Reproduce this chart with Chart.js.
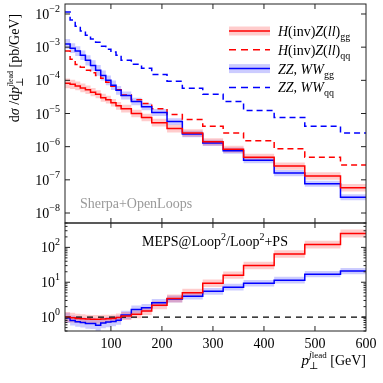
<!DOCTYPE html>
<html>
<head>
<meta charset="utf-8">
<script src="https://cdn.jsdelivr.net/npm/chart.js@4.4.0/dist/chart.umd.min.js"></script>
<style>
  html, body { margin: 0; padding: 0; background: #fff; }
  #wrap { position: relative; width: 383px; height: 383px; }
  #mainChart { position: absolute; left: 0; top: 0; }
  #ratioChart { position: absolute; left: 0; top: 222px; }
</style>
</head>
<body>
<div id="wrap">
  <canvas id="mainChart" width="383" height="224"></canvas>
  <canvas id="ratioChart" width="383" height="161"></canvas>
</div>
<script>
// bin edges in GeV (23 bins)
const binEdges = [10, 20, 30, 40, 50, 60, 70, 80, 90, 100, 110, 120, 140, 160, 180, 210, 240, 280, 320, 360, 420, 480, 550, 600];

// dsigma/dpT [pb/GeV]
const hzGg = [8.1e-5, 7.6e-5, 6.8e-5, 5.9e-5, 5.2e-5, 4.4e-5, 3.8e-5, 3.0e-5, 2.6e-5, 2.1e-5, 1.7e-5, 1.4e-5, 1.0e-5, 7.6e-6, 5.3e-6, 3.5e-6, 2.6e-6, 1.4e-6, 8.4e-7, 4.8e-7, 2.6e-7, 1.3e-7, 5.8e-8];
const hzQq = [7.6e-4, 4.3e-4, 3.0e-4, 2.5e-4, 2.0e-4, 1.7e-4, 1.4e-4, 1.15e-4, 8.7e-5, 6.6e-5, 5.2e-5, 3.6e-5, 2.6e-5, 2.0e-5, 1.4e-5, 9.3e-6, 6.6e-6, 4.1e-6, 2.6e-6, 1.5e-6, 8.7e-7, 4.8e-7, 2.8e-7];
const vvGg = [1.25e-3, 9.3e-4, 7.6e-4, 5.7e-4, 4.0e-4, 2.8e-4, 2.0e-4, 1.4e-4, 1.0e-4, 7.1e-5, 5.0e-5, 3.5e-5, 2.3e-5, 1.6e-5, 1.07e-5, 5.7e-6, 2.4e-6, 1.3e-6, 7.6e-7, 3.9e-7, 1.6e-7, 7.6e-8, 3.0e-8];
const vvQq = [1.15e-2, 6.6e-3, 4.3e-3, 3.05e-3, 2.3e-3, 1.75e-3, 1.4e-3, 1.07e-3, 8.7e-4, 7.1e-4, 5.7e-4, 4.0e-4, 3.05e-4, 2.3e-4, 1.5e-4, 9.4e-5, 5.8e-5, 3.8e-5, 2.3e-5, 1.24e-5, 7.6e-6, 4.1e-6, 2.6e-6];

// relative band half-widths of the gg predictions
const hzGgUnc = [0.40, 0.38, 0.36, 0.35, 0.34, 0.33, 0.32, 0.32, 0.31, 0.30, 0.30, 0.30, 0.30, 0.30, 0.30, 0.30, 0.30, 0.28, 0.28, 0.28, 0.28, 0.30, 0.30];
const vvGgUnc = [0.40, 0.40, 0.40, 0.40, 0.42, 0.45, 0.45, 0.42, 0.40, 0.38, 0.35, 0.32, 0.30, 0.28, 0.27, 0.26, 0.25, 0.25, 0.25, 0.24, 0.24, 0.23, 0.23];

// MEPS@Loop2 / Loop2+PS
const ratioHz = [1.0, 0.96, 0.92, 0.9, 0.88, 0.87, 0.87, 0.88, 0.9, 0.92, 0.97, 1.08, 1.2, 1.5, 2.2, 3.4, 5.0, 9.4, 16, 30, 65, 120, 250];
const ratioVv = [0.95, 0.8, 0.74, 0.7, 0.66, 0.66, 0.58, 0.68, 0.72, 0.75, 0.82, 1.15, 1.65, 1.85, 2.6, 3.3, 4.0, 5.5, 7.2, 9.4, 11.5, 17, 21];
const ratioRef = 1;

const xTicks = [100, 200, 300, 400, 500, 600];
const mainYTicks = [1e-8, 1e-7, 1e-6, 1e-5, 1e-4, 1e-3, 1e-2];
const ratioYTicks = [1, 10, 100];

const RED = '#ff0000', BLUE = '#0000ff';
const RED_BAND = 'rgba(255, 0, 0, 0.2)', BLUE_BAND = 'rgba(0, 0, 255, 0.2)';
const SERIF = "'Liberation Serif', 'DejaVu Serif', serif";
const rm = s => `${s}px ${SERIF}`;
const it = s => `italic ${s}px ${SERIF}`;

const steps = vals => binEdges.map((e, i) => ({ x: e, y: vals[Math.min(i, vals.length - 1)] }));
const up = (vals, unc) => vals.map((v, i) => v * (1 + unc[i]));
const down = (vals, unc) => vals.map((v, i) => v / (1 + unc[i]));

function line(vals, color, dashed, order) {
    return {
        data: steps(vals), stepped: 'before', borderColor: color, borderWidth: 1.5,
        borderDash: dashed ? [6, 4] : [], pointRadius: 0, fill: false, order,
    };
}
function band(vals, unc, color) {
    return [
        { data: steps(up(vals, unc)), stepped: 'before', borderWidth: 0, borderColor: 'transparent', pointRadius: 0, backgroundColor: color, fill: '+1', order: 10 },
        { data: steps(down(vals, unc)), stepped: 'before', borderWidth: 0, borderColor: 'transparent', pointRadius: 0, fill: false, order: 10 },
    ];
}

// text made of runs (italic / roman / sub / sup)
function runsWidth(ctx, runs) {
    let w = 0;
    runs.forEach(r => { if (!r.stay) { ctx.font = r.f; w += ctx.measureText(r.t).width; } });
    return w;
}
function drawRuns(ctx, x, y, runs, align) {
    if (align === 'right') x -= runsWidth(ctx, runs);
    if (align === 'center') x -= runsWidth(ctx, runs) / 2;
    ctx.textAlign = 'left';
    ctx.textBaseline = 'alphabetic';
    runs.forEach(r => {
        ctx.font = r.f;
        ctx.fillText(r.t, x, y + (r.dy || 0));
        if (!r.stay) x += ctx.measureText(r.t).width;
    });
}
const powerLabel = k => [{ t: '10', f: rm(14) }, { t: (k < 0 ? '\u2212' + (-k) : String(k)), f: rm(10), dy: -7 }];

function axesDecor(minor) {
    return {
        id: 'axesDecor',
        afterDatasetsDraw(chart) {
            const { ctx, chartArea: a, scales: { x, y } } = chart;
            const seg = (x1, y1, x2, y2) => { ctx.beginPath(); ctx.moveTo(x1, y1); ctx.lineTo(x2, y2); ctx.stroke(); };
            ctx.save();
            ctx.strokeStyle = '#222';
            ctx.lineWidth = 1;
            xTicks.forEach(v => {
                const px = x.getPixelForValue(v);
                if (px < a.right - 1) { seg(px, a.bottom, px, a.bottom - 5); seg(px, a.top, px, a.top + 5); }
            });
            y.ticks.forEach(t => {
                const py = y.getPixelForValue(t.value);
                seg(a.left, py, a.left + 5, py); seg(a.right, py, a.right - 5, py);
            });
            if (minor) {
                const lo = Math.floor(Math.log10(y.min)), hi = Math.ceil(Math.log10(y.max));
                for (let k = lo; k < hi; k++) {
                    for (let m = 2; m < 10; m++) {
                        const v = m * Math.pow(10, k);
                        if (v < y.min || v > y.max) continue;
                        const py = y.getPixelForValue(v);
                        seg(a.left, py, a.left + 2.5, py); seg(a.right, py, a.right - 2.5, py);
                    }
                }
            }
            ctx.strokeRect(a.left, a.top, a.right - a.left, a.bottom - a.top);
            ctx.fillStyle = '#000';
            y.ticks.forEach(t => {
                drawRuns(ctx, a.left - 5, y.getPixelForValue(t.value) + 5, powerLabel(Math.round(Math.log10(t.value))), 'right');
            });
            ctx.restore();
        }
    };
}

const legendItems = [
    { color: RED, band: RED_BAND, dashed: false, runs: [{ t: 'H', f: it(14) }, { t: '(inv)', f: rm(14) }, { t: 'Z', f: it(14) }, { t: '(', f: rm(14) }, { t: 'll', f: it(14) }, { t: ')', f: rm(14) }, { t: 'gg', f: rm(10), dy: 4 }] },
    { color: RED, band: null, dashed: true, runs: [{ t: 'H', f: it(14) }, { t: '(inv)', f: rm(14) }, { t: 'Z', f: it(14) }, { t: '(', f: rm(14) }, { t: 'll', f: it(14) }, { t: ')', f: rm(14) }, { t: 'qq', f: rm(10), dy: 4 }] },
    { color: BLUE, band: BLUE_BAND, dashed: false, runs: [{ t: 'ZZ', f: it(14) }, { t: ', ', f: rm(14) }, { t: 'WW', f: it(14) }, { t: 'gg', f: rm(10), dy: 4 }] },
    { color: BLUE, band: null, dashed: true, runs: [{ t: 'ZZ', f: it(14) }, { t: ', ', f: rm(14) }, { t: 'WW', f: it(14) }, { t: 'qq', f: rm(10), dy: 4 }] },
];

const mainText = {
    id: 'mainText',
    afterDraw(chart) {
        const { ctx } = chart;
        ctx.save();
        // legend
        legendItems.forEach((item, i) => {
            const cy = 31 + i * 18.8;
            if (item.band) { ctx.fillStyle = item.band; ctx.fillRect(229, cy - 4.5, 41, 9); }
            ctx.strokeStyle = item.color;
            ctx.lineWidth = 1.5;
            ctx.setLineDash(item.dashed ? [7, 5] : []);
            ctx.beginPath(); ctx.moveTo(229, cy); ctx.lineTo(270, cy); ctx.stroke();
            ctx.setLineDash([]);
            ctx.fillStyle = '#000';
            drawRuns(ctx, 278, cy + 5, item.runs, 'left');
        });
        ctx.fillStyle = '#999';
        drawRuns(ctx, 80, 208, [{ t: 'Sherpa+OpenLoops', f: rm(14) }], 'left');
        // y axis title
        ctx.fillStyle = '#000';
        ctx.translate(19, 68);
        ctx.rotate(-Math.PI / 2);
        drawRuns(ctx, 0, 0, [
            { t: 'd', f: rm(14) }, { t: '\u03c3', f: it(14) }, { t: ' /d', f: rm(14) }, { t: 'p', f: it(14) },
            { t: '\u22a5', f: rm(10), dy: 4, stay: true }, { t: 'j', f: it(9), dy: -6 }, { t: 'lead', f: rm(8), dy: -6 },
            { t: ' [pb/GeV]', f: rm(14) },
        ], 'center');
        ctx.restore();
    }
};

const ratioText = {
    id: 'ratioText',
    afterDraw(chart) {
        const { ctx } = chart;
        ctx.save();
        ctx.fillStyle = '#000';
        drawRuns(ctx, 142, 24, [
            { t: 'MEPS@Loop', f: rm(14) }, { t: '2', f: rm(10), dy: -6 }, { t: '/Loop', f: rm(14) },
            { t: '2', f: rm(10), dy: -6 }, { t: '+PS', f: rm(14) },
        ], 'left');
        drawRuns(ctx, 366, 143, [
            { t: 'p', f: it(15) }, { t: '\u22a5', f: rm(10), dy: 4, stay: true },
            { t: 'j', f: it(10), dy: -7 }, { t: 'lead', f: rm(9), dy: -7 }, { t: ' [GeV]', f: rm(14) },
        ], 'right');
        ctx.restore();
    }
};

const fixedY = (lo, hi, ticks) => ({
    type: 'logarithmic', min: lo, max: hi,
    afterFit: s => { s.width = 65; },
    afterBuildTicks: s => { s.ticks = ticks.map(v => ({ value: v })); },
    ticks: { display: false },
    grid: { display: false, drawTicks: false },
    border: { display: false },
});

new Chart(document.getElementById('mainChart'), {
    type: 'line',
    data: {
        datasets: [
            ...band(hzGg, hzGgUnc, RED_BAND),
            ...band(vvGg, vvGgUnc, BLUE_BAND),
            line(hzGg, RED, false, 0),
            line(vvGg, BLUE, false, 0),
            line(hzQq, RED, true, 1),
            line(vvQq, BLUE, true, 1),
        ]
    },
    options: {
        responsive: false,
        animation: false,
        layout: { padding: { left: 0, right: 17, top: 4, bottom: 1 }, autoPadding: false },
        plugins: { legend: { display: false }, tooltip: { enabled: false } },
        scales: {
            x: { type: 'linear', min: binEdges[0], max: binEdges[binEdges.length - 1], display: false },
            y: fixedY(5e-9, 2e-2, mainYTicks),
        }
    },
    plugins: [axesDecor(false), mainText]
});

new Chart(document.getElementById('ratioChart'), {
    type: 'line',
    data: {
        datasets: [
            ...band(ratioHz, hzGgUnc, RED_BAND),
            ...band(ratioVv, vvGgUnc, BLUE_BAND),
            line(ratioHz, RED, false, 0),
            line(ratioVv, BLUE, false, 0),
            {
                data: [{ x: binEdges[0], y: ratioRef }, { x: binEdges[binEdges.length - 1], y: ratioRef }],
                borderColor: '#000', borderWidth: 1.2, borderDash: [6, 5], pointRadius: 0, fill: false, order: 2,
            },
        ]
    },
    options: {
        responsive: false,
        animation: false,
        layout: { padding: { left: 0, right: 17, top: 1, bottom: 0 }, autoPadding: false },
        plugins: { legend: { display: false }, tooltip: { enabled: false } },
        scales: {
            x: {
                type: 'linear', min: binEdges[0], max: binEdges[binEdges.length - 1],
                afterBuildTicks: s => { s.ticks = xTicks.map(v => ({ value: v })); },
                afterFit: s => { s.height = 52; },
                ticks: { padding: 5, color: '#000', font: { family: SERIF, size: 14 }, maxRotation: 0, autoSkip: false },
                grid: { display: false, drawTicks: false },
                border: { display: false },
            },
            y: fixedY(0.4, 500, ratioYTicks),
        }
    },
    plugins: [axesDecor(true), ratioText]
});
</script>
</body>
</html>
